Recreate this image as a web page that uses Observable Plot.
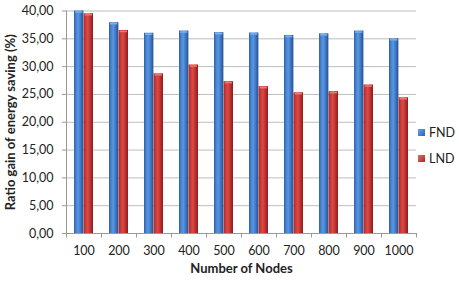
<!DOCTYPE html>
<html>
<head>
<meta charset="utf-8">
<script src="https://cdn.jsdelivr.net/npm/d3@7"></script>
<script src="https://cdn.jsdelivr.net/npm/@observablehq/plot@0.6"></script>
<style>
  html, body { margin: 0; padding: 0; background: #fff; }
  #wrap { position: relative; width: 459px; height: 283px; font-family: Lato, "Open Sans", sans-serif; }
  .leg { position: absolute; left: 418px; font-size: 12.5px; color: #222; display: flex; align-items: center; }
  .sw { width: 7px; height: 7px; margin-right: 4px; }
</style>
</head>
<body>
<div id="wrap"></div>
<script>
const nodes = ["100", "200", "300", "400", "500", "600", "700", "800", "900", "1000"];
const fnd = [40.0, 37.9, 36.0, 36.4, 36.1, 36.05, 35.6, 35.9, 36.4, 35.0];
const lnd = [39.5, 36.5, 28.7, 30.3, 27.3, 26.4, 25.3, 25.5, 26.7, 24.4];
const seriesNames = ["FND", "LND"];
const yTicks = [0, 5, 10, 15, 20, 25, 30, 35, 40];

const data = nodes.map((n, i) => ({nodes: n, fnd: fnd[i], lnd: lnd[i]}));

const W = 459, H = 283;
const mL = 66, mR = 43, mT = 10.5, mB = 50;
const step = (W - mL - mR) / nodes.length;
const padIn = 0.45;
const half = step * (1 - padIn) / 2;

const fmt = d => d.toFixed(2).replace(".", ",");

function defs() {
  const ns = "http://www.w3.org/2000/svg";
  const d = document.createElementNS(ns, "defs");
  const mk = (id, stops) => {
    const g = document.createElementNS(ns, "linearGradient");
    g.setAttribute("id", id);
    g.setAttribute("x1", "0"); g.setAttribute("x2", "1");
    g.setAttribute("y1", "0"); g.setAttribute("y2", "0");
    for (const [o, c] of stops) {
      const s = document.createElementNS(ns, "stop");
      s.setAttribute("offset", o); s.setAttribute("stop-color", c);
      g.appendChild(s);
    }
    d.appendChild(g);
  };
  mk("gBlue", [[0, "#2d62a8"], [0.25, "#4a86d2"], [0.45, "#5a96e0"], [0.75, "#3a72bf"], [1, "#244f8c"]]);
  mk("gRed", [[0, "#a8282a"], [0.25, "#d03c38"], [0.45, "#dc4a44"], [0.75, "#b82e2c"], [1, "#8a1c1c"]]);
  return d;
}

const plot = Plot.plot({
  width: W,
  height: H,
  marginLeft: mL,
  marginRight: mR,
  marginTop: mT,
  marginBottom: mB,
  style: {fontFamily: "Lato, 'Open Sans', sans-serif", fontSize: "12px", color: "#222", background: "#fff"},
  x: {domain: nodes, paddingInner: padIn, paddingOuter: padIn / 2},
  y: {domain: [0, 40]},
  marks: [
    defs,
    Plot.gridY(yTicks, {stroke: "#bdbdbd", strokeOpacity: 1}),
    Plot.barY(data, {x: "nodes", y: "fnd", fill: "url(#gBlue)", insetRight: half}),
    Plot.barY(data, {x: "nodes", y: "lnd", fill: "url(#gRed)", insetLeft: half}),
    Plot.tickY(data, {x: "nodes", y: "fnd", stroke: "#7fb0ee", strokeWidth: 1.5, insetRight: half + 1, insetLeft: 1, dy: 1}),
    Plot.tickY(data, {x: "nodes", y: "lnd", stroke: "#ec7a74", strokeWidth: 1.5, insetLeft: half + 1, insetRight: 1, dy: 1}),
    Plot.ruleY([0], {stroke: "#999"}),
    Plot.ruleX([nodes[0]], {dx: -step / 2, y1: 0, y2: 40, stroke: "#999"}),
    Plot.ruleX(nodes, {dx: -step / 2, y1: 0, y2: -0.8, stroke: "#999"}),
    Plot.ruleX([nodes[nodes.length - 1]], {dx: step / 2, y1: 0, y2: -0.8, stroke: "#999"}),
    Plot.axisY({ticks: yTicks, tickFormat: fmt, tickSize: 4, tickPadding: 9, stroke: "#999", fill: "#222", fontSize: 12.5, label: null}),
    Plot.axisX({tickSize: 0, tickPadding: 13, fontSize: 12.5, fill: "#222", label: null}),
    Plot.text(["Ratio gain of energy saving (%)"], {frameAnchor: "left", textAnchor: "middle", rotate: -90, dx: -56, fontWeight: "bold", fontSize: 13, fill: "#222"}),
    Plot.text(["Number of Nodes"], {frameAnchor: "bottom", dy: 39, fontWeight: "bold", fontSize: 13, fill: "#222"})
  ]
});

const wrap = document.getElementById("wrap");
wrap.appendChild(plot);

const legColors = {FND: "linear-gradient(135deg,#6aa2e8,#2d62a8)", LND: "linear-gradient(135deg,#e86a64,#a8282a)"};
const legTops = [125, 151];
seriesNames.forEach((s, i) => {
  const el = document.createElement("div");
  el.className = "leg";
  el.style.top = legTops[i] + "px";
  el.innerHTML = `<span class="sw" style="background:${legColors[s]}"></span><span>${s}</span>`;
  wrap.appendChild(el);
});
</script>
</body>
</html>
